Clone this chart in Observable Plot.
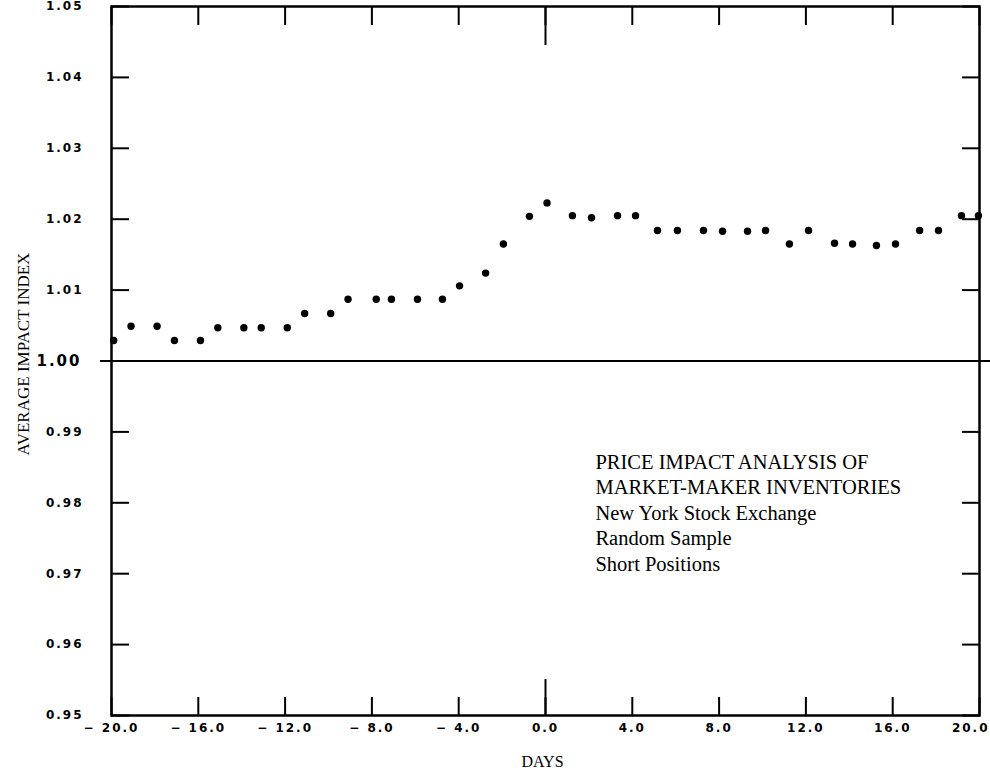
<!DOCTYPE html>
<html>
<head>
<meta charset="utf-8">
<script src="https://cdn.jsdelivr.net/npm/d3@7"></script>
<script src="https://cdn.jsdelivr.net/npm/@observablehq/plot@0.6"></script>
<style>
  html, body { margin: 0; padding: 0; background: #fff; }
  svg g[aria-label$="tick label"] text { letter-spacing: 2px; }
  svg g[aria-label="y label"] text { letter-spacing: 0.9px; }
  svg g[aria-label="x label"] text { letter-spacing: 1.5px; }
  svg g[aria-label="note"] text { letter-spacing: 0.3px; }
</style>
</head>
<body>
<div id="chart"></div>
<script>
// Data
const days = [-19.9, -19.1, -17.9, -17.1, -15.9, -15.1, -13.9, -13.1, -11.9, -11.1,
  -9.9, -9.1, -7.8, -7.1, -5.9, -4.75, -3.96, -2.76, -1.94, -0.74,
  0.07, 1.24, 2.12, 3.32, 4.15, 5.16, 6.08, 7.28, 8.16, 9.31,
  10.14, 11.24, 12.12, 13.32, 14.15, 15.25, 16.13, 17.24, 18.11, 19.17, 19.95];
const impact = [1.0029, 1.0049, 1.0049, 1.0029, 1.0029, 1.0047, 1.0047, 1.0047, 1.0047, 1.0067,
  1.0067, 1.0087, 1.0087, 1.0087, 1.0087, 1.0087, 1.0106, 1.0124, 1.0165, 1.0204,
  1.0223, 1.0205, 1.0202, 1.0205, 1.0205, 1.0184, 1.0184, 1.0184, 1.0183, 1.0183,
  1.0184, 1.0165, 1.0184, 1.0166, 1.0165, 1.0163, 1.0165, 1.0184, 1.0184, 1.0205, 1.0205];
const xTicks = [-20, -16, -12, -8, -4, 0, 4, 8, 12, 16, 20];
const xTicksLabelled = [-20, -16, -12, -8, -4, 0, 4, 8, 12, 16];
const xLastTick = [20];
const yTicks = [0.95, 0.96, 0.97, 0.98, 0.99, 1.01, 1.02, 1.03, 1.04, 1.05];
const yBase = [1];
const yLabel = "AVERAGE IMPACT INDEX";
const xLabel = "DAYS";
const noteLines = ["PRICE IMPACT ANALYSIS OF", "MARKET-MAKER INVENTORIES", "New York Stock Exchange", "Random Sample", "Short Positions"];

const data = days.map((d, i) => ({day: d, value: impact[i]}));
const fmtX = d => d < 0 ? "\u2212 " + Math.abs(d).toFixed(1) : d.toFixed(1);
const tickFont = {fontFamily: "DejaVu Sans", fontWeight: "bold", fontSize: 12};
const empty = () => "";

const chart = Plot.plot({
  width: 990,
  height: 772,
  marginLeft: 111,
  marginRight: 11,
  marginTop: 6,
  marginBottom: 57,
  style: {background: "#fff", color: "#000", fontFamily: "DejaVu Sans"},
  x: {domain: [-20, 20]},
  y: {domain: [0.95, 1.05]},
  marks: [
    Plot.frame({stroke: "#000", strokeWidth: 2.5}),
    Plot.ruleY(yBase, {stroke: "#000", strokeWidth: 2, insetLeft: -11, insetRight: -11}),
    Plot.axisX({anchor: "bottom", ticks: xTicks, tickSize: -18, tickFormat: empty, strokeWidth: 2, label: null}),
    Plot.axisX({anchor: "bottom", ticks: xTicksLabelled, tickSize: 0, tickPadding: 8, tickFormat: fmtX, label: null, ...tickFont}),
    Plot.axisX({anchor: "bottom", ticks: xLastTick, tickSize: 0, tickPadding: 8, tickFormat: fmtX, label: null, textAnchor: "end", dx: 10, ...tickFont}),
    Plot.axisX({anchor: "top", ticks: xTicks, tickSize: -18, tickFormat: empty, strokeWidth: 2, label: null}),
    Plot.axisX({anchor: "bottom", ticks: [0], tickSize: -36, tickFormat: empty, strokeWidth: 2, label: null}),
    Plot.axisX({anchor: "top", ticks: [0], tickSize: -38, tickFormat: empty, strokeWidth: 2, label: null}),
    Plot.axisY({anchor: "left", ticks: yTicks, tickSize: -18, tickPadding: 46, tickFormat: d => d.toFixed(2), strokeWidth: 2, label: null, ...tickFont}),
    Plot.axisY({anchor: "left", ticks: yBase, tickSize: 0, tickPadding: 30, tickFormat: d => d.toFixed(2), label: null, fontFamily: "DejaVu Sans", fontWeight: "bold", fontSize: 15}),
    Plot.axisY({anchor: "right", ticks: yTicks, tickSize: -18, tickFormat: empty, strokeWidth: 2, label: null}),
    Plot.dot(data, {x: "day", y: "value", r: 3.7, fill: "#000", stroke: null}),
    Plot.text([yLabel], {ariaLabel: "y label", frameAnchor: "left", textAnchor: "middle", dx: -88, dy: -7, rotate: -90, fontFamily: "Liberation Serif", fontSize: 17, fill: "#000"}),
    Plot.text([xLabel], {ariaLabel: "x label", frameAnchor: "bottom", textAnchor: "middle", dx: -3, dy: 51, fontFamily: "Liberation Serif", fontSize: 16, fill: "#000"}),
    Plot.text([noteLines.join("\n")], {ariaLabel: "note", x: () => 2.3, y: () => 0.9873, textAnchor: "start", lineAnchor: "top", lineHeight: 1.24, fontFamily: "Liberation Serif", fontSize: 20.5, fill: "#000"})
  ]
});
document.getElementById("chart").appendChild(chart);
</script>
</body>
</html>
